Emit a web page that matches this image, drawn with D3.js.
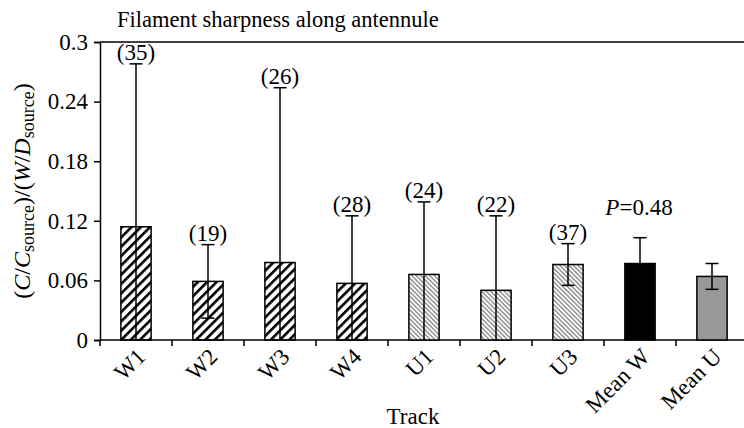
<!DOCTYPE html>
<html>
<head>
<meta charset="utf-8">
<script src="https://cdn.jsdelivr.net/npm/d3@7"></script>
<style>
  body { margin: 0; background: #fff; }
</style>
</head>
<body>
<div id="chart"></div>
<script>
// Data
const tracks = ["W1", "W2", "W3", "W4", "U1", "U2", "U3", "Mean W", "Mean U"];
const means = [0.114, 0.059, 0.078, 0.057, 0.066, 0.050, 0.076, 0.077, 0.064];
const sds = [0.164, 0.037, 0.176, 0.068, 0.073, 0.075, 0.021, 0.026, 0.013];
const counts = [35, 19, 26, 28, 24, 22, 37, null, null];
const fills = ["hatchW", "hatchW", "hatchW", "hatchW", "hatchU", "hatchU", "hatchU", "black", "gray"];
const yTicks = [0, 0.06, 0.12, 0.18, 0.24, 0.3];

const data = tracks.map((t, i) => ({ track: t, mean: means[i], sd: sds[i], n: counts[i], fill: fills[i] }));

const width = 744, height = 428;
const margin = { top: 42, left: 100, bottom: 88 };
const plotW = 648, plotH = height - margin.top - margin.bottom;
const serif = "'Liberation Serif'";
const fs = "23px";

const svg = d3.select("#chart").append("svg")
  .attr("width", width)
  .attr("height", height);

// Hatch patterns
const defs = svg.append("defs");
defs.append("pattern")
  .attr("id", "hatchW")
  .attr("patternUnits", "userSpaceOnUse")
  .attr("width", 6.6).attr("height", 10)
  .attr("patternTransform", "rotate(45)")
  .append("rect")
  .attr("x", 0).attr("y", 0).attr("width", 2.6).attr("height", 10)
  .attr("fill", "#000");
defs.append("pattern")
  .attr("id", "hatchU")
  .attr("patternUnits", "userSpaceOnUse")
  .attr("width", 3.2).attr("height", 10)
  .attr("patternTransform", "rotate(-45)")
  .call(p => {
    p.append("rect").attr("width", 3.2).attr("height", 10).attr("fill", "#fff");
    p.append("rect").attr("width", 1.6).attr("height", 10).attr("fill", "#9a9a9a");
  });

const g = svg.append("g").attr("transform", `translate(${margin.left},${margin.top})`);

const x = d3.scaleBand().domain(tracks).range([0, plotW]).paddingInner(0.58).paddingOuter(0.29);
const xEdge = d3.scaleBand().domain(tracks).range([0, plotW]);
const y = d3.scaleLinear().domain([0, 0.3]).range([plotH, 0]);

// Frame top line
g.append("line")
  .attr("x1", 0).attr("x2", plotW)
  .attr("y1", 0).attr("y2", 0)
  .attr("stroke", "#000").attr("stroke-width", 1.5);

// Y axis
const yAxis = g.append("g")
  .call(d3.axisLeft(y).tickValues(yTicks).tickSize(6).tickFormat(d => d === 0 ? "0" : String(+d.toFixed(2))));
yAxis.select(".domain").attr("stroke-width", 1.5);
yAxis.selectAll(".tick line").attr("stroke-width", 1.5);
yAxis.selectAll("text")
  .style("font-family", serif)
  .style("font-size", fs)
  .attr("x", -12).attr("fill", "#000");

// X axis with ticks at band boundaries
g.append("line")
  .attr("x1", 0).attr("x2", plotW)
  .attr("y1", plotH).attr("y2", plotH)
  .attr("stroke", "#000").attr("stroke-width", 1.5);
g.selectAll(".xtick")
  .data(tracks)
  .join("line")
  .attr("x1", d => xEdge(d)).attr("x2", d => xEdge(d))
  .attr("y1", plotH).attr("y2", plotH + 6)
  .attr("stroke", "#000").attr("stroke-width", 1.5);

g.selectAll(".xlabel")
  .data(tracks)
  .join("text")
  .attr("text-anchor", "end")
  .style("font-family", serif)
  .style("font-size", fs)
  .attr("transform", d => `translate(${x(d) + x.bandwidth() / 2 + 11},${plotH + 18}) rotate(-45)`)
  .text(d => d);

// Bars
g.selectAll(".bar")
  .data(data)
  .join("rect")
  .attr("x", d => x(d.track))
  .attr("y", d => y(d.mean))
  .attr("width", x.bandwidth())
  .attr("height", d => y(0) - y(d.mean))
  .attr("fill", d => d.fill === "black" ? "#000" : d.fill === "gray" ? "#999" : `url(#${d.fill})`)
  .attr("stroke", "#000")
  .attr("stroke-width", 1.5);

// Error bars
const cx = d => x(d.track) + x.bandwidth() / 2;
const capW = 6.5;
g.selectAll(".err")
  .data(data)
  .join("line")
  .attr("x1", cx).attr("x2", cx)
  .attr("y1", d => y(d.mean + d.sd))
  .attr("y2", d => y(Math.max(0, d.mean - d.sd)))
  .attr("stroke", "#000").attr("stroke-width", 1.5);
g.selectAll(".capTop")
  .data(data)
  .join("line")
  .attr("x1", d => cx(d) - capW).attr("x2", d => cx(d) + capW)
  .attr("y1", d => y(d.mean + d.sd)).attr("y2", d => y(d.mean + d.sd))
  .attr("stroke", "#000").attr("stroke-width", 1.5);
g.selectAll(".capBot")
  .data(data.filter(d => d.mean - d.sd > 0))
  .join("line")
  .attr("x1", d => cx(d) - capW).attr("x2", d => cx(d) + capW)
  .attr("y1", d => y(d.mean - d.sd)).attr("y2", d => y(d.mean - d.sd))
  .attr("stroke", "#000").attr("stroke-width", 1.5);

// Sample sizes
g.selectAll(".count")
  .data(data.filter(d => d.n !== null))
  .join("text")
  .attr("x", cx)
  .attr("y", d => y(d.mean + d.sd) - 4)
  .attr("text-anchor", "middle")
  .style("font-family", serif)
  .style("font-size", fs)
  .text(d => `(${d.n})`);

// P value
const pText = g.append("text")
  .attr("x", cx(data[7]) - 1)
  .attr("y", y(0.1034) - 22)
  .attr("text-anchor", "middle")
  .style("font-family", serif)
  .style("font-size", fs);
pText.append("tspan").style("font-style", "italic").text("P");
pText.append("tspan").text("=0.48");

// Title
svg.append("text")
  .attr("x", 117).attr("y", 27)
  .style("font-family", serif)
  .style("font-size", "22.5px")
  .text("Filament sharpness along antennule");

// Axis titles
svg.append("text")
  .attr("x", 413).attr("y", 424)
  .attr("text-anchor", "middle")
  .style("font-family", serif)
  .style("font-size", fs)
  .text("Track");

const yl = svg.append("text")
  .attr("transform", `translate(30,${margin.top + plotH / 2}) rotate(-90)`)
  .attr("text-anchor", "middle")
  .style("font-family", serif)
  .style("font-size", "24px");
yl.append("tspan").text("(");
yl.append("tspan").style("font-style", "italic").text("C");
yl.append("tspan").text("/");
yl.append("tspan").style("font-style", "italic").text("C");
yl.append("tspan").style("font-size", "18px").attr("dy", 4).text("source");
yl.append("tspan").attr("dy", -4).text(")/(");
yl.append("tspan").style("font-style", "italic").text("W");
yl.append("tspan").text("/");
yl.append("tspan").style("font-style", "italic").text("D");
yl.append("tspan").style("font-size", "18px").attr("dy", 4).text("source");
yl.append("tspan").attr("dy", -4).text(")");
</script>
</body>
</html>
